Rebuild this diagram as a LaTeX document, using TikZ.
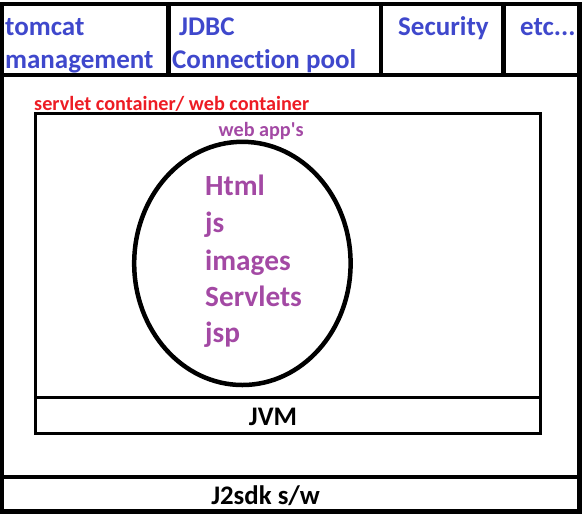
\documentclass[tikz,border=0pt]{standalone}
\usepackage{fontspec}
\setmainfont{Carlito}[Ligatures={NoCommon}]
\definecolor{pindigo}{HTML}{3F48CC}
\definecolor{pred}{HTML}{ED1C24}
\definecolor{ppurple}{HTML}{A349A4}
\tikzset{
  frame/.style={line width=4.5pt, draw=black},
  thin frame/.style={line width=3pt, draw=black},
  txt/.style={inner sep=0pt, anchor=base west, font=\bfseries},
  head/.style={txt, text=pindigo, font=\bfseries\fontsize{27}{32}\selectfont},
  app/.style={txt, text=ppurple, font=\bfseries\fontsize{29.3}{34}\selectfont},
  base/.style={inner sep=0pt, anchor=base, text=black, font=\bfseries\fontsize{26.8}{32}\selectfont},
}
\begin{document}
\begin{tikzpicture}[x=1pt,y=-1pt]
\useasboundingbox (0,0) rectangle (585,515);
% outer frame and horizontal bands
\draw[frame] (2.2,4.2) rectangle (579.5,511.5);
\draw[frame] (2.2,75) -- (579.5,75);
\draw[frame] (2.2,476.8) -- (579.5,476.8);
% header dividers
\draw[frame] (168.3,4.2) -- (168.3,75);
\draw[frame] (381,4.2) -- (381,75);
\draw[frame] (503.5,4.2) -- (503.5,75);
% inner container box
\draw[thin frame] (35.5,113) rectangle (540.5,433.7);
\draw[thin frame] (35.5,397.5) -- (540.5,397.5);
% web app ellipse
\draw[line width=4.5pt] (242.4,263.4) ellipse [x radius=108.2, y radius=121.6];
% header texts
\node[head] (tomcat) at (5,35) {tomcat};
\node[head] (mgmt) at (5,68) {management};
\node[head] (jdbc) at (179,35) {JDBC};
\node[head] (pool) at (172,68) {Connect\kern0pt ion pool};
\node[head] (sec) at (398,35) {Security};
\node[head] (etc) at (520,35) {etc...};
% container labels
\node[txt, text=pred, font=\bfseries\fontsize{20.2}{24}\selectfont] (servlet) at (34,110) {servlet container/ web container};
\node[txt, text=ppurple, font=\bfseries\fontsize{20.2}{24}\selectfont] (webapp) at (218.5,136.7) {web app\textquotesingle s};
% app contents
\node[app] (html) at (205,195.7) {Html};
\node[app] (js) at (205,232.7) {js};
\node[app] (images) at (205,270) {images};
\node[app] (servlets) at (205,306.7) {Servlets};
\node[app] (jsp) at (205,342.7) {jsp};
% bottom labels
\node[base] (jvm) at (273,425) {JVM};
\node[base] (j2sdk) at (265.6,504.3) {J2sdk s/w};
\end{tikzpicture}
\end{document}
